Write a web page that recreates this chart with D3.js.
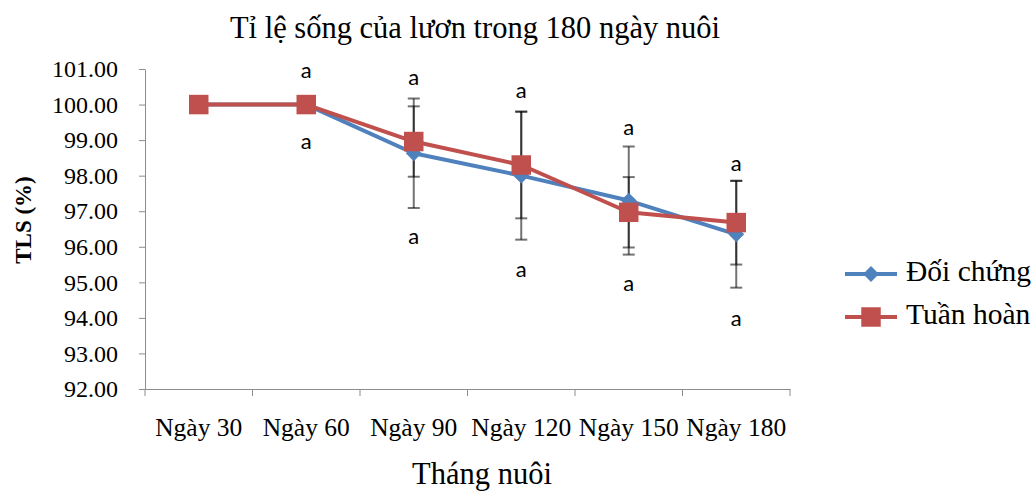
<!DOCTYPE html>
<html>
<head>
<meta charset="utf-8">
<script src="https://cdn.jsdelivr.net/npm/d3@7"></script>
<style>
  body { margin: 0; background: #fff; }
</style>
</head>
<body>
<div id="chart"></div>
<script>
// dữ liệu
const categories = ["Ngày 30", "Ngày 60", "Ngày 90", "Ngày 120", "Ngày 150", "Ngày 180"];
const doiChung = [100, 100, 98.63, 98.0, 97.3, 96.35];
const tuanHoan = [100, 100, 98.96, 98.3, 96.97, 96.68];
const errDoiChung = [0, 0, 1.54, 1.8, 1.52, 1.5];
const errTuanHoan = [0, 0, 0.99, 1.5, 0.99, 1.18];
// vị trí chữ "a" (theo giá trị trục y)
const labelTop = [null, 100.9, 100.7, 100.34, 99.3, 98.3];
const labelBottom = [null, 98.9, 96.23, 95.32, 94.9, 93.92];

const width = 1035, height = 492;
const serif = "'Liberation Serif', 'Times New Roman', serif";

const svg = d3.select("#chart").append("svg")
  .attr("width", width).attr("height", height);

const x = d3.scaleBand().domain(categories).range([145, 790]);
const y = d3.scaleLinear().domain([92, 101]).range([389, 69]);

// trục
const yAxis = svg.append("g").attr("transform", "translate(145,0)")
  .call(d3.axisLeft(y).ticks(9).tickFormat(d3.format(".2f")).tickSize(6).tickSizeOuter(0));
yAxis.select(".domain").attr("stroke", "#8c8c8c");
yAxis.selectAll(".tick line").attr("stroke", "#8c8c8c");
yAxis.selectAll(".tick text").attr("x", -27).attr("font-family", serif).attr("font-size", 24).attr("fill", "#000");

const xAxis = svg.append("g").attr("transform", "translate(0,389)")
  .call(d3.axisBottom(x).tickSize(0).tickSizeOuter(0));
xAxis.select(".domain").attr("stroke", "#8c8c8c");
xAxis.selectAll(".tick text").attr("y", 47).attr("dy", 0)
  .attr("font-family", serif).attr("font-size", 25.5).attr("fill", "#000");
svg.append("g").selectAll("line")
  .data(d3.range(categories.length + 1))
  .join("line")
  .attr("x1", i => x.range()[0] + i * x.step()).attr("x2", i => x.range()[0] + i * x.step())
  .attr("y1", 389).attr("y2", 396).attr("stroke", "#8c8c8c");

const cx = d => x(d) + x.bandwidth() / 2;

// thanh sai số
const series = [
  { name: "Đối chứng", values: doiChung, err: errDoiChung, color: "#4f81bd" },
  { name: "Tuần hoàn", values: tuanHoan, err: errTuanHoan, color: "#c0504d" }
];

series.forEach(s => {
  const g = svg.append("g").attr("stroke", "#000").attr("stroke-opacity", 0.55).attr("stroke-width", 2);
  categories.forEach((c, i) => {
    if (!s.err[i]) return;
    const px = cx(c), top = y(s.values[i] + s.err[i]), bot = y(s.values[i] - s.err[i]);
    g.append("line").attr("x1", px).attr("x2", px).attr("y1", top).attr("y2", bot);
    g.append("line").attr("x1", px - 6).attr("x2", px + 6).attr("y1", top).attr("y2", top);
    g.append("line").attr("x1", px - 6).attr("x2", px + 6).attr("y1", bot).attr("y2", bot);
  });
});

// đường và điểm
const line = d3.line().x((d, i) => cx(categories[i])).y(d => y(d));
const symbolOf = k => k === 0 ? d3.symbol(d3.symbolDiamond2, 160) : d3.symbol(d3.symbolSquare, 380);
series.forEach((s, k) => {
  svg.append("path").datum(s.values)
    .attr("d", line).attr("fill", "none")
    .attr("stroke", s.color).attr("stroke-width", 4).attr("stroke-linejoin", "round");
  svg.append("g").selectAll("path")
    .data(s.values)
    .join("path")
    .attr("d", symbolOf(k))
    .attr("transform", (d, i) => `translate(${cx(categories[i])},${y(d)})`)
    .attr("fill", s.color);
});

// chữ "a"
const lab = svg.append("g").attr("font-family", "Lato, 'Open Sans', sans-serif")
  .attr("font-size", 22).attr("text-anchor", "middle").attr("dominant-baseline", "middle");
[labelTop, labelBottom].forEach(arr => {
  arr.forEach((v, i) => {
    if (v == null) return;
    lab.append("text").attr("x", cx(categories[i])).attr("y", y(v)).text("a");
  });
});

// tiêu đề
svg.append("text").attr("x", 475).attr("y", 38).attr("text-anchor", "middle")
  .attr("font-family", serif).attr("font-size", 30.5).text("Tỉ lệ sống của lươn trong 180 ngày nuôi");
svg.append("text").attr("x", 482).attr("y", 484).attr("text-anchor", "middle")
  .attr("font-family", serif).attr("font-size", 30.5).text("Tháng nuôi");
svg.append("text").attr("transform", "translate(31,220) rotate(-90)").attr("text-anchor", "middle")
  .attr("font-family", serif).attr("font-size", 23).attr("font-weight", "bold").text("TLS (%)");

// chú thích
const leg = svg.append("g");
series.forEach((s, k) => {
  const ly = 274 + k * 43;
  leg.append("line").attr("x1", 845).attr("x2", 897).attr("y1", ly).attr("y2", ly)
    .attr("stroke", s.color).attr("stroke-width", 4);
  leg.append("path").attr("d", symbolOf(k)).attr("transform", `translate(871,${ly})`).attr("fill", s.color);
  leg.append("text").attr("x", 906).attr("y", ly).attr("dominant-baseline", "middle")
    .attr("font-family", serif).attr("font-size", 29.5).text(s.name);
});
</script>
</body>
</html>
